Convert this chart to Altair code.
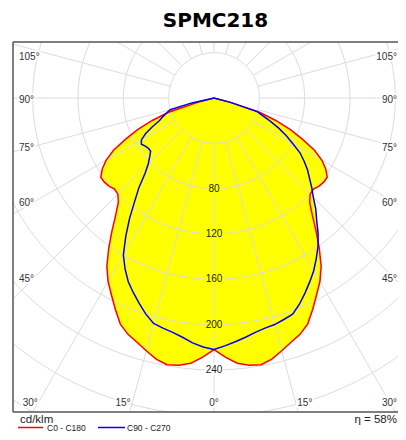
import math
import pandas as pd
import altair as alt

# ---------------- data ----------------
TITLE = "SPMC218"
GAMMA = [0, 2.5, 5, 7.5, 10, 12.5, 15, 17.5, 20, 22.5, 25, 27.5, 30, 32.5, 35, 37.5,
         40, 42.5, 45, 47.5, 50, 52.5, 55, 57.5, 60, 62.5, 65, 67.5, 70, 72.5, 75, 77.5, 80]
RED_C0 = [222, 229, 235, 238, 239, 236, 231, 226, 222, 216, 206, 196, 187, 176, 162, 148,
          135, 125, 120, 119, 121, 122, 122, 117, 110, 100, 86, 73, 58, 42, 15, 0, 0]
RED_C180 = [222, 229, 235, 238, 239, 236, 231, 226, 222, 216, 206, 196, 187, 176, 162, 148,
            135, 125, 120, 119, 121, 122, 122, 117, 110, 100, 86, 73, 58, 42, 15, 0, 0]
BLUE_C90 = [222, 219, 216, 213, 210, 208, 207, 205, 203, 197, 190, 183, 176, 168, 160, 151,
            141, 133, 124, 117, 110, 104, 97, 90, 80, 72, 63, 54, 46, 40, 15, 0, 0]
BLUE_C270 = [222, 220, 217, 213, 210, 208, 206, 200, 193, 186, 179, 170, 160, 145, 130, 115,
             103, 90, 82, 77, 73, 73, 74, 76, 74, 68, 60, 52, 48, 44, 40, 20, 0]
SERIES = ["C0 - C180", "C90 - C270"]
COLORS = ["#ff0000", "#0000ff"]
RING_VALUES = [40, 80, 120, 160, 200, 240, 280, 320, 360, 400]
RING_LABELS = [80, 120, 160, 200, 240]
RAY_ANGLES = [0, 15, 30, 45, 60, 75, 90, 105, 120, 135, 150, 165, 180]
SIDE_LABEL_ANGLES = [45, 60, 75, 90, 105]
BOTTOM_LABEL_ANGLES = [0, 15, 30]
UNIT = "cd/klm"
EFFICIENCY = "η = 58%"

# ---------------- geometry / layout ----------------
PX = 1.133               # pixels per cd/klm
W, H = 385, 370          # plot area (page is 406 wide with 8px margins)
CX, CY = 201.0, 56.0     # polar centre inside the plot area (px)
X_INSET = 179 / PX       # where the rays meet the label band (sides)
Y_INSET = 300 / PX       # where the rays meet the label band (bottom)
FONT = "Liberation Sans"

xs = alt.Scale(domain=[-CX / PX, (W - CX) / PX], nice=False, zero=False)
ys = alt.Scale(domain=[-(H - CY) / PX, CY / PX], nice=False, zero=False)
X = alt.X("x:Q", scale=xs, axis=None)
Y = alt.Y("y:Q", scale=ys, axis=None)


def pt(g, v, side):
    a = math.radians(g)
    return side * v * math.sin(a), -v * math.cos(a)


# outlines (right half then left half)
rows = []
for name, right, left in [(SERIES[0], RED_C0, RED_C180), (SERIES[1], BLUE_C90, BLUE_C270)]:
    i = 0
    for g, v in zip(GAMMA, right):
        x, y = pt(g, v, 1)
        rows.append(dict(series=name, i=i, x=x, y=y)); i += 1
    for g, v in reversed(list(zip(GAMMA, left))):
        x, y = pt(g, v, -1)
        rows.append(dict(series=name, i=i, x=x, y=y)); i += 1
curves = pd.DataFrame(rows)

# grid rings
rrows = []
for r in RING_VALUES:
    for t in range(0, 361, 2):
        a = math.radians(t)
        rrows.append(dict(ring=r, t=t, x=r * math.sin(a), y=-r * math.cos(a)))
rings = pd.DataFrame(rrows)

# grid rays
yrows = []
for g in RAY_ANGLES:
    for s in ([1] if g in (0, 180) else [1, -1]):
        x1, y1 = pt(g, RING_VALUES[0], s)
        x2, y2 = pt(g, 900, s)
        yrows.append(dict(x=x1, y=y1, x2=x2, y2=y2))
rays = pd.DataFrame(yrows)

# value labels on the 0 deg axis
vl = pd.DataFrame(dict(x=[0] * len(RING_LABELS), y=[-r for r in RING_LABELS],
                       text=[str(r) for r in RING_LABELS],
                       halo=["#ffff00" if r < RED_C0[0] else "#ffffff" for r in RING_LABELS]))

# angle labels
RIGHT_EDGE = (W - CX - 1) / PX
arows = []
for g in SIDE_LABEL_ANGLES:
    yd = X_INSET / math.tan(math.radians(g))
    yd = max(yd, -(CY - 13) / PX)
    arows.append(dict(x=-CX / PX + 6 / PX, y=-yd - 2 / PX, text=f"{g}°", align="left"))
    arows.append(dict(x=RIGHT_EDGE, y=-yd - 2 / PX, text=f"{g}°", align="right"))
for g in BOTTOM_LABEL_ANGLES:
    xd = Y_INSET * math.tan(math.radians(g))
    yy = -(Y_INSET + 5 / PX)
    if g == 0:
        arows.append(dict(x=0, y=yy, text=f"{g}°", align="center"))
    else:
        arows.append(dict(x=-xd - 3 / PX, y=yy, text=f"{g}°", align="right"))
        arows.append(dict(x=min(xd + 4 / PX + 14 / PX, RIGHT_EDGE), y=yy, text=f"{g}°",
                          align="right"))
alab = pd.DataFrame(arows)

# ---------------- layers ----------------
fill = alt.Chart(curves).mark_line(fill="#ffff00", strokeWidth=0, strokeOpacity=0).encode(
    x=X, y=Y, detail="series:N", order="i:Q")

ring_l = alt.Chart(rings).mark_line(stroke="#dcdcdc", strokeWidth=1, clip=True).encode(
    x=X, y=Y, detail="ring:N", order="t:Q")

ray_l = alt.Chart(rays).mark_rule(stroke="#dcdcdc", strokeWidth=1, clip=True).encode(
    x=X, y=Y, x2="x2:Q", y2="y2:Q")

lines = alt.Chart(curves).mark_line(strokeWidth=1.5).encode(
    x=X, y=Y, order="i:Q",
    color=alt.Color("series:N", scale=alt.Scale(domain=SERIES, range=COLORS), legend=None))

val_halo = alt.Chart(vl).mark_text(font=FONT, fontSize=10, strokeWidth=4).encode(
    x=X, y=Y, text="text:N", color=alt.Color("halo:N", scale=None),
    stroke=alt.Stroke("halo:N", scale=None))
val_text = alt.Chart(vl).mark_text(font=FONT, fontSize=10, color="#222222").encode(
    x=X, y=Y, text="text:N")

ang_layers = []
for al in ["left", "right", "center"]:
    base = alt.Chart(alab).transform_filter(alt.datum.align == al)
    ang_layers.append(base.mark_text(font=FONT, fontSize=10, align=al, color="#ffffff",
                                     stroke="#ffffff", strokeWidth=4, clip=True).encode(
        x=X, y=Y, text="text:N"))
    ang_layers.append(base.mark_text(font=FONT, fontSize=10, align=al, color="#333333",
                                     clip=True).encode(x=X, y=Y, text="text:N"))

frame_c = "#555555"
frame = [
    alt.Chart().mark_rule(color=frame_c, strokeWidth=1.5).encode(
        x=alt.value(0), x2=alt.value(0), y=alt.value(0), y2=alt.value(H)),
    alt.Chart().mark_rule(color=frame_c, strokeWidth=1.5).encode(
        x=alt.value(0), x2=alt.value(W), y=alt.value(0), y2=alt.value(0)),
    alt.Chart().mark_rule(color=frame_c, strokeWidth=1.5).encode(
        x=alt.value(0), x2=alt.value(W), y=alt.value(H), y2=alt.value(H)),
]

legend = [
    alt.Chart().mark_text(font=FONT, fontSize=11.5, align="left", color="#222222").encode(
        x=alt.value(7), y=alt.value(H + 8), text=alt.value(UNIT)),
    alt.Chart().mark_text(font=FONT, fontSize=11.5, align="right", color="#222222").encode(
        x=alt.value(W - 1), y=alt.value(H + 8), text=alt.value(EFFICIENCY)),
    alt.Chart().mark_rule(color=COLORS[0], strokeWidth=1.5).encode(
        x=alt.value(5), x2=alt.value(30), y=alt.value(H + 15.5), y2=alt.value(H + 15.5)),
    alt.Chart().mark_text(font=FONT, fontSize=8.5, align="left", color="#222222").encode(
        x=alt.value(34), y=alt.value(H + 16), text=alt.value(SERIES[0])),
    alt.Chart().mark_rule(color=COLORS[1], strokeWidth=1.5).encode(
        x=alt.value(85), x2=alt.value(112), y=alt.value(H + 15.5), y2=alt.value(H + 15.5)),
    alt.Chart().mark_text(font=FONT, fontSize=8.5, align="left", color="#222222").encode(
        x=alt.value(114), y=alt.value(H + 16), text=alt.value(SERIES[1])),
]

chart = alt.layer(
    fill, ring_l, ray_l, lines, val_halo, val_text, *ang_layers, *frame, *legend
).properties(
    width=W, height=H,
    title=alt.TitleParams(TITLE, font="DejaVu Sans", fontSize=20, fontWeight="bold",
                          color="#000000", anchor="middle", dx=10, offset=10),
    padding={"left": 5, "top": 34, "right": 0, "bottom": 20},
    autosize=alt.AutoSizeParams(type="none"),
).configure_view(strokeWidth=0)

chart.save("out.html", embed_options={"renderer": "svg", "actions": False})
